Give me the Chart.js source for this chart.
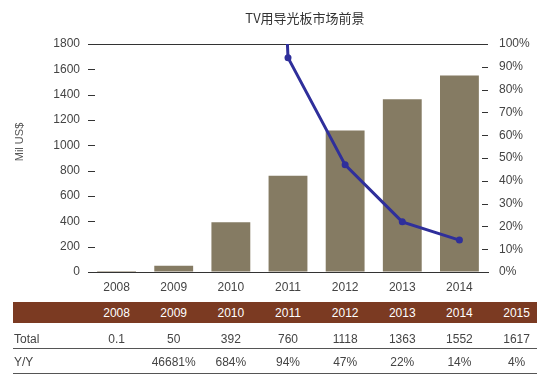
<!DOCTYPE html>
<html>
<head>
<meta charset="utf-8">
<script src="https://cdn.jsdelivr.net/npm/chart.js@4"></script>
<style>
  html, body { margin: 0; padding: 0; background: #fff; }
  #wrap { position: relative; width: 550px; height: 388px; overflow: hidden; font-family: 'Liberation Sans', Arial, sans-serif; }
  #chartBox { position: absolute; left: 0; top: 0; width: 550px; height: 300px; }
  #title { position: absolute; left: 205px; width: 200px; top: 9px; text-align: center; font: 13px 'Noto Sans CJK SC', sans-serif; color: #333; line-height: 17px; }
  #ytitle { position: absolute; left: 19px; top: 142px; transform: translate(-50%, -50%) rotate(-90deg); font-size: 11px; color: #555; white-space: nowrap; }
  .band { position: absolute; left: 13px; width: 524px; top: 302px; height: 21px; background: #7b3a22; }
  .cell { position: absolute; width: 56px; margin-left: -28px; text-align: center; font-size: 12px; line-height: 14px; white-space: nowrap; }
  .rowlabel { position: absolute; left: 14px; font-size: 12px; line-height: 14px; color: #444; }
  .rule { position: absolute; left: 13px; width: 524px; height: 1px; background: #555; }
</style>
</head>
<body>
<div id="wrap">
  <div id="chartBox"><canvas id="c"></canvas></div>
  <div id="title"></div>
  <div id="ytitle"></div>
  <div id="table"></div>
</div>
<script>
// ---- data ----
const chartTitle = 'TV用导光板市场前景';
const yAxisTitle = 'Mil US$';
const years = ['2008', '2009', '2010', '2011', '2012', '2013', '2014', '2015'];
const totals = [0.1, 50, 392, 760, 1118, 1363, 1552, 1617];
const yoy = [null, 46681, 684, 94, 47, 22, 14, 4];
const chartYears = years.slice(0, 7);
const chartTotals = totals.slice(0, 7);
const chartYoy = yoy.slice(0, 7);
const leftTicksMax = 1800;
const rightTicksMax = 100;

document.getElementById('title').textContent = chartTitle;
document.getElementById('ytitle').textContent = yAxisTitle;

const FONT = "'Liberation Sans', Arial, sans-serif";

const innerTicks = {
  id: 'innerTicks',
  afterDatasetsDraw(chart) {
    const ctx = chart.ctx;
    const left = chart.chartArea.left;
    const right = chart.chartArea.right;
    const y = chart.scales.y;
    const y1 = chart.scales.y1;
    ctx.save();
    ctx.strokeStyle = '#333';
    ctx.lineWidth = 1;
    for (const t of y.ticks) {
      const py = Math.round(y.getPixelForValue(t.value)) + 0.5;
      ctx.beginPath(); ctx.moveTo(left, py); ctx.lineTo(left + 7, py); ctx.stroke();
    }
    for (const t of y1.ticks) {
      const py = Math.round(y1.getPixelForValue(t.value)) + 0.5;
      ctx.beginPath(); ctx.moveTo(right - 6, py); ctx.lineTo(right, py); ctx.stroke();
    }
    ctx.restore();
  }
};

const chart = new Chart(document.getElementById('c'), {
  type: 'bar',
  data: {
    labels: chartYears,
    datasets: [
      {
        type: 'line',
        label: 'Y/Y',
        data: chartYoy,
        yAxisID: 'y1',
        borderColor: '#2f2f9b',
        backgroundColor: '#2f2f9b',
        borderWidth: 3,
        pointRadius: 3.5,
        pointHoverRadius: 3.5,
        pointBackgroundColor: '#2f2f9b',
        pointBorderWidth: 0,
        tension: 0,
        order: 0
      },
      {
        type: 'bar',
        label: 'Total',
        data: chartTotals,
        yAxisID: 'y',
        backgroundColor: '#857b63',
        borderWidth: 0,
        barPercentage: 0.68,
        categoryPercentage: 1,
        order: 1
      }
    ]
  },
  options: {
    responsive: true,
    maintainAspectRatio: false,
    animation: false,
    devicePixelRatio: 1,
    layout: { padding: { top: 44, left: 0, right: 0, bottom: 0 } },
    plugins: { legend: { display: false }, title: { display: false }, tooltip: { enabled: false } },
    scales: {
      x: {
        grid: { display: false, drawTicks: false },
        border: { display: true, color: '#333', width: 1 },
        ticks: { color: '#444', font: { family: FONT, size: 12 }, padding: 8 },
        afterFit(s) { s.height = 28; }
      },
      y: {
        position: 'left',
        min: 0, max: leftTicksMax,
        ticks: { stepSize: 200, color: '#444', font: { family: FONT, size: 12 }, padding: 8, callback: (v) => String(v) },
        grid: {
          drawTicks: false,
          color: (c) => (c.tick && c.tick.value === leftTicksMax) ? '#333' : 'rgba(0,0,0,0)'
        },
        border: { display: false },
        afterFit(s) { s.width = 88; }
      },
      y1: {
        position: 'right',
        min: 0, max: rightTicksMax,
        ticks: { stepSize: 10, color: '#444', font: { family: FONT, size: 12 }, padding: 11, callback: (v) => v + '%' },
        grid: { display: false, drawTicks: false },
        border: { display: false },
        afterFit(s) { s.width = 62; }
      }
    }
  },
  plugins: [innerTicks]
});

// ---- table below the chart, columns aligned with the category scale ----
(function buildTable() {
  const xs = chart.scales.x;
  const step = xs.getPixelForValue(1) - xs.getPixelForValue(0);
  const colX = years.map((_, i) => xs.getPixelForValue(0) + i * step);
  const t = document.getElementById('table');
  let html = '<div class="band"></div>';
  years.forEach((yr, i) => {
    html += `<div class="cell" style="left:${colX[i]}px;top:306px;color:#fff">${yr}</div>`;
  });
  html += '<div class="rowlabel" style="top:332px">Total</div>';
  totals.forEach((v, i) => {
    html += `<div class="cell" style="left:${colX[i]}px;top:332px;color:#444">${v}</div>`;
  });
  html += '<div class="rule" style="top:348px"></div>';
  html += '<div class="rowlabel" style="top:355px">Y/Y</div>';
  yoy.forEach((v, i) => {
    if (v !== null) html += `<div class="cell" style="left:${colX[i]}px;top:355px;color:#444">${v}%</div>`;
  });
  html += '<div class="rule" style="top:373px"></div>';
  t.innerHTML = html;
})();
</script>
</body>
</html>
